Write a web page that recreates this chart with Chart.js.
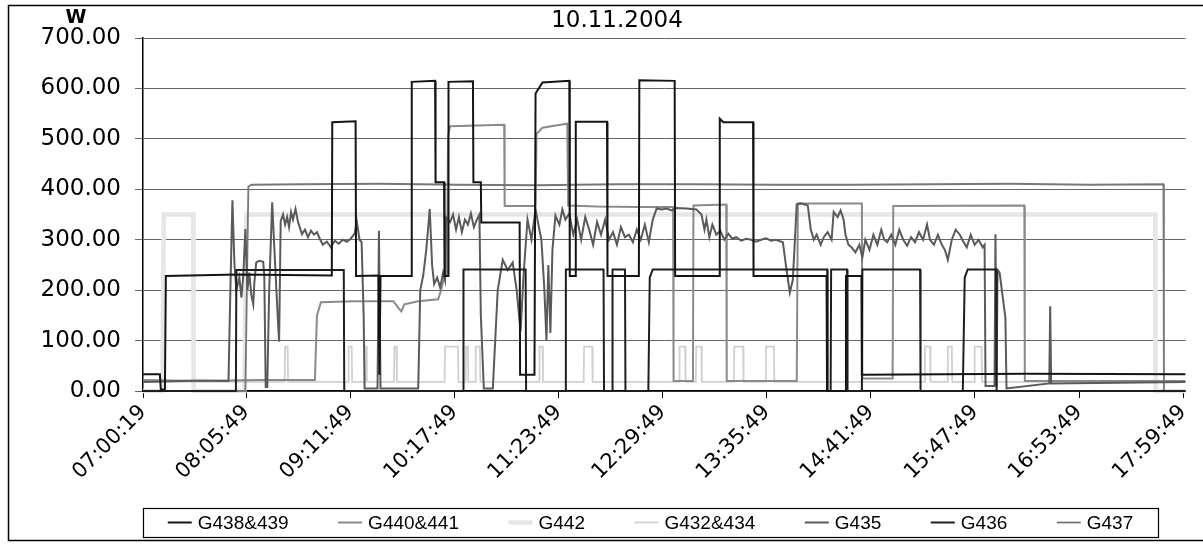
<!DOCTYPE html>
<html>
<head>
<meta charset="utf-8">
<script src="https://cdn.jsdelivr.net/npm/chart.js@4/dist/chart.umd.min.js"></script>
<style>
  html, body { margin: 0; padding: 0; background: #fff; }
</style>
</head>
<body>
<canvas id="c" width="1203" height="545"></canvas>
<script>
// axis labels and text
const chartTitle = '10.11.2004';
const unitLabel = 'W';
const tickLabels = ['07:00:19', '08:05:49', '09:11:49', '10:17:49', '11:23:49', '12:29:49',
    '13:35:49', '14:41:49', '15:47:49', '16:53:49', '17:59:49'];

// series: [minutes after 07:00:19, watts]
const g438 = [[0,33],[10.7,33],[11.3,3],[13.9,3],[14.5,228],[60,231],[119.7,229],[120,533],[134.8,535],
    [135.1,228],[149.3,229],[149.9,32],[150.6,228],[170.1,228],[170.4,613],[185.2,615],[185.5,414],
    [190.9,414],[191.2,228],[193.4,228],[193.7,613],[209.2,614],[209.5,414],[214.2,414],[214.5,334],
    [238.8,334],[239.1,32],[248.2,32],[248.9,590],[253.3,612],[270.3,615],[270.6,228],[274.1,228],
    [274.4,534],[294.2,534],[294.5,228],[314.4,228],[314.7,616],[337.1,615],[337.4,228],[365.4,228],
    [365.7,540],[368,533],[386.8,533],[387.1,228],[433.4,228],[433.7,0],[445.4,0],[445.7,228],
    [455.5,228],[455.8,32],[560,34],[660.9,33]];

const g440 = [[0,22],[35.9,20],[73.7,22],[109,22],[110.3,150],[112.8,176],[133.6,178],[158.8,178],
    [161.9,165],[163.8,158],[165.7,172],[174.5,178],[187.1,182],[189,200],[190.9,225],[192.8,230],
    [193.4,505],[194.7,525],[229,528],[229.3,367],[248.9,367],[249.5,510],[253.3,522],[262.7,527],
    [269,530],[269.6,368],[287.9,366],[313.1,365],[336.1,365],[336.4,20],[348.7,20],[349,368],
    [369.8,370],[370.1,20],[414.5,20],[415.2,372],[455.8,372],[456.1,25],[475.3,25],[475.7,367],
    [558.8,368],[559.1,20],[660.9,20]];

const g442 = [[0,0],[12.3,0],[13.2,350],[31.8,350],[32.1,0],[64.3,0],[65.5,350],[641.7,350],
    [642,0],[660.9,0]];

const g432 = [[0,18],[89.8,18],[90.1,88],[91.7,88],[92,18],[130.1,18],[130.4,88],[132.3,88],[132.6,18],
    [140.7,18],[141,88],[141.6,88],[141.9,18],[159.1,18],[159.4,88],[160.7,88],[161,18],
    [191.2,18],[191.5,88],[199.7,88],[200,18],[204.5,18],[204.8,88],[206,88],[206.3,18],
    [210.7,18],[211,88],[213.6,88],[213.9,18],[251.1,18],[251.4,88],[253.3,88],[253.6,18],
    [279.4,18],[279.7,88],[284.8,88],[285.1,18],[339.9,18],[340.2,88],[343.7,88],[344,18],
    [350.5,18],[350.8,88],[354,88],[354.3,18],[374.6,18],[374.9,88],[380.5,88],[380.8,18],
    [394.7,18],[395,88],[400,88],[400.3,18],[495.5,18],[495.8,88],[499,88],[499.3,18],
    [510,18],[510.3,88],[512.8,88],[513.1,18],[527,18],[527.3,88],[531.7,88],[532,18],[660.9,18]];

const g435 = [[0,18],[35.9,21],[54.2,20],[55.4,200],[56.7,378],[58,250],[59.2,200],[61.1,225],[62.4,185],
    [63.6,230],[64.9,321],[66.2,200],[67.4,235],[68.7,190],[69.9,172],[70.6,215],[71.8,255],[73.7,258],
    [76.2,256],[76.9,230],[77.8,8],[78.8,8],[80,200],[81.9,374],[83.8,250],[85.7,130],[86.3,98],
    [87.3,337],[88.8,350],[90.1,330],[91.4,345],[92.6,325],[93.9,355],[95.1,340],[96.7,361],[98.3,335],
    [100.8,311],[102.7,320],[104.6,305],[106.5,318],[108.4,310],[110.3,315],[112.1,302],[114,290],
    [116.6,296],[119.1,285],[121.6,298],[124.1,292],[126.6,300],[129.2,296],[131.7,302],[134.2,312],
    [135.5,337],[137.3,300],[138.6,295],[139.9,150],[140.5,5],[148.7,5],[149.6,318],[150.6,5],
    [174.5,5],[175.8,200],[177.7,230],[179.6,280],[181.8,361],[183.3,250],[184.6,212],[186.5,225],
    [188.4,205],[190.3,235],[191.5,220],[192.2,344],[194.7,335],[196.6,350],[198.5,320],[200.3,345],
    [202.2,315],[204.1,340],[206,330],[207.9,352],[209.8,325],[211.7,340],[213.3,350],[214.2,150],
    [216.1,5],[221.8,5],[224.9,200],[228.1,260],[231.2,240],[234.4,255],[236.9,200],[239.4,118],
    [241.3,230],[243.8,340],[246.3,300],[248.9,360],[250.7,330],[252.6,300],[254.5,200],[255.8,100],
    [257,250],[258.3,115],[259.6,280],[261.5,348],[264,330],[265.9,360],[267.8,340],[270.3,352],
    [272.8,310],[275.3,340],[277.8,300],[280.4,345],[282.9,320],[285.4,290],[287.9,335],[290.4,310],
    [293,340],[295.5,300],[298,315],[300.5,290],[303,325],[305.6,305],[308.1,310],[310.6,295],
    [313.1,320],[315.6,300],[318.2,330],[320.7,295],[323.2,340],[325.7,362],[328.9,360],[332,362],
    [335.2,358],[338.3,363],[344.6,362],[350.9,360],[354.1,350],[356,320],[357.2,340],[359.1,305],
    [361,330],[363.5,310],[366,318],[368.6,300],[371.1,312],[373.6,302],[376.1,305],[379.3,298],
    [382.4,302],[385.6,300],[388.7,296],[391.9,300],[395,303],[398.2,298],[401.3,300],[405.7,295],
    [407.6,250],[410.1,195],[412,220],[414.5,370],[417.1,372],[421.5,368],[423.4,320],[425.3,300],
    [427.1,310],[429.7,290],[431.6,305],[434.1,315],[436.6,300],[437.9,355],[440.4,345],[442.3,358],
    [444.2,340],[445.4,310],[447.3,290],[449.2,285],[451.7,275],[454.2,290],[456.1,265],[458,300],
    [460.6,280],[463.1,310],[465.6,290],[468.1,320],[470,300],[471.9,295],[474.4,310],[477,290],
    [479.5,320],[482,300],[484.5,288],[487,305],[489.5,295],[492,315],[494.6,300],[497.1,330],
    [499,300],[501.5,290],[504,310],[506.5,290],[508.4,280],[510.3,260],[512.8,300],[515.3,320],
    [517.9,310],[519.8,298],[522.3,285],[524.8,310],[527.3,290],[529.8,300],[532.4,285],[533.6,290],
    [534.2,10],[539.9,10],[540.5,311],[541.2,10],[541.8,240],[543.1,235],[546.8,145],[547.5,5],
    [574.6,15],[575.2,168],[575.8,15],[660.9,18]];

const g436 = [[0,0],[58.9,0],[59.2,240],[127.3,240],[127.6,0],[202.9,0],[203.2,241],[242.6,241],
    [242.9,0],[267.8,0],[268.1,241],[292,241],[292.3,0],[297.4,0],[297.7,241],[305.6,241],[305.9,0],
    [320.4,0],[321.3,225],[323.2,241],[433.8,241],[434.1,0],[436,0],[436.3,241],[446.4,241],
    [446.7,0],[455.8,0],[456.1,241],[492.7,241],[493,0],[519.8,0],[521,225],[522.9,241],
    [540.9,241],[541.2,0],[660.9,0]];

const g437 = [[0,0],[64.9,0],[66.8,405],[68.7,409],[100,410],[150,411],[200,409],[250,408],[300,410],
    [350,410],[400,409],[450,409],[500,410],[550,411],[600,409],[647,410],[647.3,0],[660.9,0]];

// minutes of each tick label after the first one
function toMinutes(s) {
    const p = s.split(':').map(Number);
    return p[0] * 60 + p[1] + p[2] / 60;
}
const tickMinutes = tickLabels.map(s => toMinutes(s) - toMinutes(tickLabels[0]));

function pts(arr) {
    return arr.map(p => ({ x: p[0], y: p[1] }));
}

const datasets = [
    { label: 'G438&439', data: pts(g438), borderColor: '#141414', borderWidth: 2, order: 1 },
    { label: 'G440&441', data: pts(g440), borderColor: '#8a8a8a', borderWidth: 2, order: 5 },
    { label: 'G442', data: pts(g442), borderColor: '#e6e6e6', borderWidth: 4.5, order: 7 },
    { label: 'G432&434', data: pts(g432), borderColor: '#d0d0d0', borderWidth: 1.8, order: 6 },
    { label: 'G435', data: pts(g435), borderColor: '#5a5a5a', borderWidth: 2, order: 3 },
    { label: 'G436', data: pts(g436), borderColor: '#1e1e1e', borderWidth: 2, order: 2 },
    { label: 'G437', data: pts(g437), borderColor: '#777777', borderWidth: 1.8, order: 4 }
];
datasets.forEach(d => {
    d.pointRadius = 0;
    d.tension = 0;
    d.fill = false;
    d.clip = 3;
});

// frame, title, unit and the boxed legend
const decor = {
    id: 'decor',
    afterDraw(chart) {
        const ctx = chart.ctx;
        ctx.save();
        ctx.strokeStyle = '#000';
        ctx.lineWidth = 1.5;
        ctx.strokeRect(8.5, 5.5, 1210, 535);

        ctx.fillStyle = '#000';
        ctx.textAlign = 'center';
        ctx.textBaseline = 'middle';
        ctx.font = '23px "DejaVu Sans"';
        ctx.fillText(chartTitle, 617, 21);
        ctx.font = 'bold 19px "DejaVu Sans"';
        ctx.fillText(unitLabel, 76, 18);

        // legend
        const x0 = 143, x1 = 1158, y0 = 508, y1 = 537;
        const ym = (y0 + y1) / 2;
        ctx.lineWidth = 1.2;
        ctx.strokeRect(x0 + 0.5, y0 + 0.5, x1 - x0, y1 - y0);
        ctx.font = '19px "Liberation Sans"';
        ctx.textAlign = 'left';
        const sample = 24, gapIn = 6;
        const items = chart.data.datasets.map(ds => ({
            ds, w: sample + gapIn + ctx.measureText(ds.label).width
        }));
        const total = items.reduce((s, it) => s + it.w, 0);
        const gap = (x1 - x0 - total) / items.length;
        let x = x0 + gap / 2;
        items.forEach(it => {
            ctx.strokeStyle = it.ds.borderColor;
            ctx.lineWidth = it.ds.borderWidth;
            ctx.beginPath();
            ctx.moveTo(x, ym);
            ctx.lineTo(x + sample, ym);
            ctx.stroke();
            ctx.fillStyle = '#000';
            ctx.fillText(it.ds.label, x + sample + gapIn, ym + 1);
            x += it.w + gap;
        });
        ctx.restore();
    }
};

new Chart(document.getElementById('c'), {
    type: 'line',
    data: { datasets: datasets },
    options: {
        responsive: false,
        devicePixelRatio: 1,
        animation: false,
        layout: { padding: { top: 38, right: 11, bottom: 54, left: 0 } },
        plugins: {
            legend: { display: false },
            title: { display: false },
            tooltip: { enabled: false }
        },
        scales: {
            x: {
                type: 'linear',
                min: 0,
                max: 661,
                afterBuildTicks: s => { s.ticks = tickMinutes.map(v => ({ value: v })); },
                afterFit: s => { s.height = 100; },
                grid: { drawOnChartArea: false, drawTicks: true, tickLength: 7, color: '#000' },
                border: { color: '#000', width: 1.5 },
                ticks: {
                    autoSkip: false,
                    minRotation: 45,
                    maxRotation: 45,
                    padding: 2,
                    color: '#000',
                    font: { family: 'DejaVu Sans', size: 21 },
                    callback: (v, i) => tickLabels[i]
                }
            },
            y: {
                min: 0,
                max: 700,
                afterFit: s => { s.width = 143; },
                grid: { color: '#666666', lineWidth: 1, drawTicks: true, tickLength: 8 },
                border: { color: '#000', width: 1.5 },
                ticks: {
                    stepSize: 100,
                    padding: 14,
                    color: '#000',
                    font: { family: 'DejaVu Sans', size: 23 },
                    callback: v => v.toFixed(2)
                }
            }
        }
    },
    plugins: [decor]
});
</script>
</body>
</html>
